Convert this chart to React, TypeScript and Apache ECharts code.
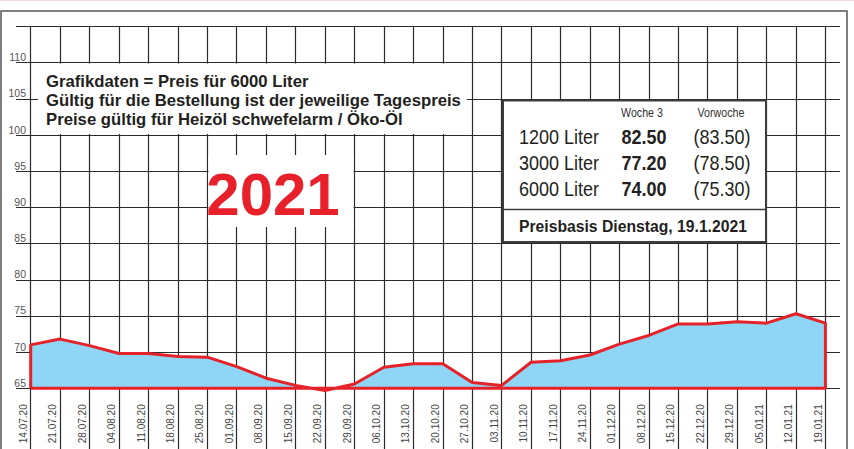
import React, { useEffect, useRef } from "react";
import * as echarts from "echarts";

const dates = [
  "14.07.20", "21.07.20", "28.07.20", "04.08.20", "11.08.20", "18.08.20", "25.08.20",
  "01.09.20", "08.09.20", "15.09.20", "22.09.20", "29.09.20", "06.10.20", "13.10.20",
  "20.10.20", "27.10.20", "03.11.20", "10.11.20", "17.11.20", "24.11.20", "01.12.20",
  "08.12.20", "15.12.20", "22.12.20", "29.12.20", "05.01.21", "12.01.21", "19.01.21",
];
const prices6000 = [
  71.0, 71.8, 70.9, 69.8, 69.8, 69.4, 69.3, 68.0, 66.4, 65.4, 64.7, 65.6, 67.9, 68.4,
  68.4, 65.8, 65.4, 68.6, 68.8, 69.6, 71.1, 72.3, 73.9, 73.9, 74.2, 74.0, 75.3, 74.0,
];
const Y_MIN = 65;
const Y_MAX = 115;
const Y_STEP = 5;
const BASE = 65;

const notes = [
  "Grafikdaten = Preis für 6000 Liter",
  "Gültig für die Bestellung ist der jeweilige Tagespreis",
  "Preise gültig für Heizöl schwefelarm / Öko-Öl",
];
const yearLabel = "2021";
const tableHeaders = ["Woche 3", "Vorwoche"];
const tableRows = ["1200 Liter", "3000 Liter", "6000 Liter"];
const currentWeek = ["82.50", "77.20", "74.00"];
const previousWeek = ["(83.50)", "(78.50)", "(75.30)"];
const basisText = "Preisbasis Dienstag, 19.1.2021";

const FONT = "Liberation Sans, Arial, Helvetica, sans-serif";
const GRID_COLOR = "#2a2a2a";

export default function App() {
  const ref = useRef<HTMLDivElement>(null);

  useEffect(() => {
    if (!ref.current) return;
    const chart = echarts.init(ref.current, null, { renderer: "svg" });

    const n = dates.length;
    const polygon: [number, number][] = [
      [0, BASE],
      ...prices6000.map((v, i) => [i, v] as [number, number]),
      [n - 1, BASE],
      [0, BASE],
    ];

    const gridTop = 26.5;
    const gridHeight = 361.8;

    const graphic: any[] = [
      {
        type: "line",
        shape: { x1: 0, y1: 0.5, x2: 854, y2: 0.5 },
        style: { stroke: "#f3d8dc", lineWidth: 1 },
        silent: true,
      },
      {
        type: "rect",
        shape: { x: 1, y: 11, width: 846, height: 470 },
        style: { fill: "none", stroke: "#555", lineWidth: 1.5 },
        silent: true,
        z: 1,
      },
      {
        type: "rect",
        shape: { x: 38, y: 63.5, width: 429, height: 70.5 },
        style: { fill: "#fff" },
        silent: true,
        z: 50,
      },
      ...notes.map((t, i) => ({
        type: "text",
        x: 46,
        y: 81 + i * 19.2,
        scaleX: 1.045,
        style: {
          text: t,
          fontSize: 16,
          fontWeight: "bold",
          fontFamily: FONT,
          fill: "#231f20",
          verticalAlign: "middle",
        },
        silent: true,
        z: 60,
      })),
      {
        type: "rect",
        shape: { x: 208.5, y: 155, width: 145, height: 72 },
        style: { fill: "#fff" },
        silent: true,
        z: 50,
      },
      {
        type: "text",
        x: 273,
        y: 194,
        style: {
          text: yearLabel,
          fontSize: 60,
          fontWeight: "bold",
          fontFamily: FONT,
          fill: "#e8202a",
          align: "center",
          verticalAlign: "middle",
        },
        silent: true,
        z: 60,
      },
      {
        type: "rect",
        shape: { x: 503, y: 100.5, width: 263, height: 141.5 },
        style: { fill: "#fff", stroke: "#3d3d3d", lineWidth: 2 },
        silent: true,
        z: 50,
      },
      {
        type: "line",
        shape: { x1: 503, y1: 209.5, x2: 766, y2: 209.5 },
        style: { stroke: "#3d3d3d", lineWidth: 1.5 },
        silent: true,
        z: 55,
      },
      ...tableHeaders.map((t, i) => ({
        type: "text",
        x: i === 0 ? 642 : 721,
        y: 113,
        scaleX: 0.89,
        style: {
          text: t,
          fontSize: 12,
          fontFamily: FONT,
          fill: "#333",
          align: "center",
          verticalAlign: "middle",
        },
        silent: true,
        z: 60,
      })),
      ...tableRows.map((t, i) => ({
        type: "text",
        x: 519,
        y: 137 + i * 26,
        scaleX: 0.9,
        style: {
          text: t,
          fontSize: 20,
          fontFamily: FONT,
          fill: "#231f20",
          align: "left",
          verticalAlign: "middle",
        },
        silent: true,
        z: 60,
      })),
      ...currentWeek.map((t, i) => ({
        type: "text",
        x: 644,
        y: 137 + i * 26,
        scaleX: 0.9,
        style: {
          text: t,
          fontSize: 20,
          fontWeight: "bold",
          fontFamily: FONT,
          fill: "#231f20",
          align: "center",
          verticalAlign: "middle",
        },
        silent: true,
        z: 60,
      })),
      ...previousWeek.map((t, i) => ({
        type: "text",
        x: 722,
        y: 137 + i * 26,
        scaleX: 0.9,
        style: {
          text: t,
          fontSize: 20,
          fontFamily: FONT,
          fill: "#231f20",
          align: "center",
          verticalAlign: "middle",
        },
        silent: true,
        z: 60,
      })),
      {
        type: "text",
        x: 519,
        y: 225.5,
        scaleX: 0.925,
        style: {
          text: basisText,
          fontSize: 17,
          fontWeight: "bold",
          fontFamily: FONT,
          fill: "#231f20",
          align: "left",
          verticalAlign: "middle",
        },
        silent: true,
        z: 60,
      },
    ];

    chart.setOption({
      animation: false,
      backgroundColor: "#ffffff",
      grid: [
        { left: 16, right: 14, top: gridTop, height: gridHeight },
        { left: 30.7, right: 28.6, top: gridTop, height: gridHeight },
        { left: 23.3, right: 36, top: gridTop, height: gridHeight },
      ],
      xAxis: [
        { type: "value", gridIndex: 0, min: -0.5, max: n - 0.5, show: false },
        {
          type: "category",
          gridIndex: 1,
          data: dates,
          boundaryGap: false,
          axisLine: { show: false },
          axisLabel: { show: false },
          axisTick: {
            show: true,
            interval: 0,
            length: 62,
            lineStyle: { color: GRID_COLOR, width: 1.2 },
          },
          splitLine: {
            show: true,
            interval: 0,
            lineStyle: { color: GRID_COLOR, width: 1.2 },
          },
        },
        {
          type: "category",
          gridIndex: 2,
          data: dates,
          boundaryGap: false,
          axisLine: { show: false },
          axisTick: { show: false },
          splitLine: { show: false },
          axisLabel: {
            show: true,
            interval: 0,
            rotate: 90,
            margin: 16,
            fontSize: 10,
            fontFamily: FONT,
            color: "#444",
          },
        },
      ],
      yAxis: [
        {
          type: "value",
          gridIndex: 0,
          min: Y_MIN,
          max: Y_MAX,
          interval: Y_STEP,
          offset: -10,
          axisLine: { show: false },
          axisTick: { show: false },
          axisLabel: {
            margin: 0,
            fontSize: 10.5,
            fontFamily: FONT,
            color: "#555",
            verticalAlign: "bottom",
            formatter: (v: number) => (v >= Y_MAX ? "" : String(v)),
          },
          splitLine: { show: true, lineStyle: { color: GRID_COLOR, width: 1.2 } },
        },
        { type: "value", gridIndex: 1, min: Y_MIN, max: Y_MAX, show: false, splitLine: { show: false } },
        { type: "value", gridIndex: 2, min: Y_MIN, max: Y_MAX, show: false, splitLine: { show: false } },
      ],
      series: [
        {
          type: "line",
          xAxisIndex: 1,
          yAxisIndex: 1,
          data: polygon,
          clip: false,
          showSymbol: false,
          symbol: "none",
          smooth: false,
          lineStyle: { color: "#e62229", width: 3, join: "round" },
          areaStyle: { color: "#8fd6f6", opacity: 1, origin: BASE },
          z: 5,
        },
      ],
      graphic,
    });

    return () => chart.dispose();
  }, []);

  return (
    <div
      ref={ref}
      style={{ position: "absolute", left: 0, top: 0, width: 854, height: 449 }}
    />
  );
}
